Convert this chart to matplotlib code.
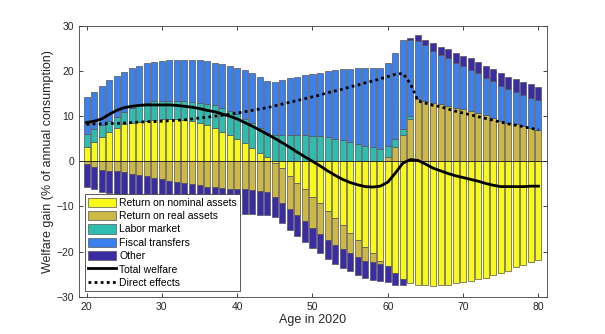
import matplotlib
matplotlib.use("Agg")
import matplotlib.pyplot as plt
import numpy as np

plt.rcParams['font.family'] = ['Liberation Sans', 'DejaVu Sans']

ages = np.arange(20, 81)

nominal = [3.1, 4.2, 5.4, 6.5, 7.4, 8.2, 8.5, 8.7, 9.0, 9.2,
           9.3, 9.3, 9.3, 9.1, 8.9, 8.5, 8.0, 7.3, 6.6, 5.8,
           5.0, 4.1, 3.0, 1.9, 0.9, -0.3, -1.5, -3.3, -4.7, -6.1,
           -7.8, -9.3, -11.1, -12.6, -14.2, -15.9, -17.4, -19.0, -20.4, -22.0,
           -23.3, -24.8, -26.1, -26.9, -27.3, -27.4, -27.6, -27.4, -27.3, -27.0,
           -26.8, -26.5, -26.1, -25.8, -25.3, -24.8, -24.2, -23.5, -23.0, -22.4, -21.8]
real = [-0.7, -1.3, -2.0, -2.1, -2.2, -2.3, -2.7, -3.0, -3.3, -3.7,
        -4.0, -4.3, -4.6, -4.9, -5.1, -5.3, -5.6, -5.7, -5.8, -6.1,
        -6.2, -6.2, -6.4, -6.6, -6.8, -7.5, -7.8, -7.3, -7.1, -7.2,
        -7.0, -6.8, -6.3, -5.9, -5.3, -4.5, -3.9, -3.1, -2.0, -0.7,
        1.0, 3.1, 5.8, 9.3, 13.9, 13.3, 13.0, 12.6, 12.2, 11.8,
        11.5, 11.1, 10.7, 10.2, 9.6, 9.0, 8.5, 8.2, 7.8, 7.4, 6.9]
labor = [3.0, 3.0, 2.6, 2.5, 2.5, 2.7, 3.3, 3.7, 4.0, 4.1,
         4.1, 4.1, 4.1, 4.2, 4.3, 4.5, 4.7, 5.1, 5.3, 5.4,
         5.5, 5.3, 5.4, 5.5, 5.4, 5.8, 5.8, 5.8, 5.8, 5.8,
         5.7, 5.6, 5.3, 5.0, 4.7, 4.2, 3.9, 3.5, 3.1, 2.8,
         2.3, 1.9, 1.4, 0.7, 0, 0, 0, 0, 0, 0,
         0, 0, 0, 0, 0, 0, 0, 0, 0, 0, 0]
fiscal = [8.2, 8.2, 8.7, 9.1, 9.1, 9.0, 8.9, 8.8, 8.8, 8.7,
          8.9, 9.0, 9.1, 9.2, 9.2, 9.4, 9.5, 9.5, 9.7, 10.0,
          10.1, 10.8, 11.1, 11.4, 11.6, 11.8, 12.3, 12.6, 13.0, 13.3,
          13.7, 14.0, 14.7, 15.2, 15.7, 16.3, 16.7, 17.1, 17.6, 17.9,
          18.6, 19.1, 19.6, 16.9, 12.7, 12.4, 11.4, 11.0, 10.6, 10.1,
          9.6, 9.1, 8.8, 8.3, 8.1, 7.7, 7.5, 7.1, 6.9, 6.7, 6.7]
other = [-4.9, -4.8, -4.9, -4.9, -5.0, -5.0, -5.0, -5.0, -5.1, -5.1,
         -5.1, -5.1, -5.2, -5.2, -5.2, -5.2, -5.3, -5.3, -5.3, -5.3,
         -5.4, -5.4, -5.2, -5.2, -5.1, -4.6, -4.4, -4.6, -4.7, -4.6,
         -4.5, -4.3, -4.2, -4.2, -4.2, -4.0, -4.0, -3.8, -3.9, -3.8,
         -3.5, -2.6, -1.3, 0.5, 1.3, 1.3, 1.9, 1.8, 2.0, 2.1,
         2.3, 2.6, 2.5, 2.7, 2.7, 2.9, 2.8, 2.9, 2.9, 3.0, 2.8]

total_welfare = [8.6, 8.9, 9.4, 10.4, 11.3, 11.9, 12.2, 12.4, 12.5, 12.5,
                 12.5, 12.5, 12.4, 12.2, 12.0, 11.7, 11.3, 11.0, 10.5, 10.0,
                 9.4, 8.6, 7.8, 6.9, 6.0, 5.1, 4.1, 3.1, 2.0, 1.0,
                 0.0, -1.0, -2.1, -3.1, -4.0, -4.7, -5.2, -5.6, -5.7, -5.5,
                 -4.6, -2.6, -0.4, 0.4, 0.2, -0.6, -1.5, -2.1, -2.7, -3.2,
                 -3.6, -4.0, -4.4, -4.9, -5.3, -5.6, -5.6, -5.6, -5.6, -5.5, -5.5]
direct = [8.2, 8.3, 8.3, 8.4, 8.4, 8.5, 8.6, 8.7, 8.8, 8.8,
          8.9, 9.0, 9.1, 9.2, 9.4, 9.6, 9.8, 10.0, 10.2, 10.5,
          10.7, 11.0, 11.3, 11.6, 11.9, 12.3, 12.7, 13.1, 13.5, 13.9,
          14.3, 14.7, 15.2, 15.6, 16.0, 16.5, 16.9, 17.4, 17.8, 18.3,
          18.8, 19.3, 19.5, 17.2, 13.4, 12.9, 12.4, 12.1, 11.6, 11.1,
          10.7, 10.3, 9.9, 9.5, 9.1, 8.7, 8.3, 8.0, 7.7, 7.3, 7.0]

series = [nominal, real, labor, fiscal, other]
names = ["Return on nominal assets", "Return on real assets", "Labor market",
         "Fiscal transfers", "Other"]
colors = ['#F9F91A', '#CDB845', '#2DBDB0', '#3A80EE', '#3B2CA3']

fig = plt.figure(figsize=(6.05, 3.34), dpi=100)
ax = fig.add_axes([0.1306, 0.1117, 0.7731, 0.8105])

# stack positive and negative parts separately, like matlab bar 'stacked'
pos_base = np.zeros(len(ages))
neg_base = np.zeros(len(ages))
handles = []
for vals, name, c in zip(series, names, colors):
    v = np.array(vals, dtype=float)
    bottom = np.where(v >= 0, pos_base, neg_base)
    b = ax.bar(ages, v, width=0.8, bottom=bottom, color=c, edgecolor='#555555',
               linewidth=0.5, label=name)
    handles.append(b)
    pos_base = pos_base + np.clip(v, 0, None)
    neg_base = neg_base + np.clip(v, None, 0)

ax.axhline(0, color='#222222', linewidth=0.6)

l1, = ax.plot(ages, total_welfare, color='black', linewidth=2.0, label="Total welfare")
l2, = ax.plot(ages, direct, color='black', linewidth=2.0, linestyle=(0, (1, 1.2)),
              label="Direct effects")
handles += [l1, l2]

ax.set_xlim(19, 81.1)
ax.set_ylim(-30, 30)
ax.set_xticks(np.arange(20, 81, 10))
ax.set_yticks(np.arange(-30, 31, 10))
ax.tick_params(direction='in', top=True, right=True, labelsize=7.5,
               colors='#262626', length=3, width=0.6)
for s in ax.spines.values():
    s.set_color('#404040')
    s.set_linewidth(0.6)

ax.set_xlabel("Age in 2020", fontsize=9, color='#262626', labelpad=2)
ax.set_ylabel("Welfare gain (% of annual consumption)", fontsize=9,
              color='#262626', labelpad=2)

leg = ax.legend(handles=handles, loc='lower left', bbox_to_anchor=(0.013, 0.021),
                fontsize=7.5, frameon=True, fancybox=False, edgecolor='#404040',
                handlelength=2.7, handleheight=1.0, handletextpad=0.3,
                labelspacing=0.3, borderpad=0.3, borderaxespad=0)
leg.get_frame().set_linewidth(0.6)
leg.get_frame().set_alpha(1)

plt.savefig("out.png", dpi=100)
